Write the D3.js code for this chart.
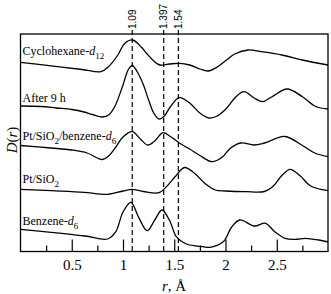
<!DOCTYPE html>
<html><head><meta charset="utf-8">
<script src="https://cdn.jsdelivr.net/npm/d3@7/dist/d3.min.js"></script>
<style>body{margin:0;background:#fff}svg{display:block}</style>
</head><body>
<svg id="chart" width="331" height="294"></svg>
<script>
// ---- data (D(r) in arbitrary units, curves stacked with offsets) ----
const r_cyclohexane = [0, 0.3, 0.6, 0.785, 0.853, 0.95, 1.016, 1.094, 1.18, 1.23, 1.3, 1.36, 1.45, 1.55, 1.65, 1.75, 1.83, 1.92, 2.01, 2.09, 2.22, 2.35, 2.55, 2.75, 3.0];
const D_cyclohexane = [189.2, 185.6, 182, 179.8, 184.2, 196.5, 208, 211.5, 204.2, 198.2, 190.5, 186.5, 187.5, 188.2, 186.5, 182.5, 180.5, 184.5, 191.5, 197.5, 201.5, 199.8, 196.5, 191.5, 186.5];

const r_after9h = [0, 0.2, 0.35, 0.5, 0.62, 0.7, 0.8, 0.86, 0.92, 1.0, 1.05, 1.09, 1.14, 1.2, 1.25, 1.3, 1.35, 1.4, 1.46, 1.55, 1.65, 1.75, 1.84, 1.92, 2.01, 2.1, 2.18, 2.28, 2.36, 2.45, 2.6, 2.75, 2.88, 3.0];
const D_after9h = [145.5, 145, 143.5, 142, 139.5, 137, 134.5, 136.5, 145, 166.5, 181.5, 186, 179.5, 166.5, 151.5, 138.5, 132.5, 135, 144.5, 153.8, 148.5, 138.5, 133.5, 135.5, 143.2, 154.5, 159.8, 153.5, 149.8, 154.5, 162.5, 154.8, 145, 142.5];

const r_ptBenzene = [0, 0.3, 0.5, 0.65, 0.75, 0.8, 0.86, 0.93, 1.0, 1.09, 1.17, 1.24, 1.31, 1.39, 1.47, 1.55, 1.65, 1.75, 1.87, 1.97, 2.05, 2.15, 2.28, 2.38, 2.58, 2.75, 2.87, 3.0];
const D_ptBenzene = [106, 103.5, 101.5, 98.5, 93.5, 92, 95.5, 104.5, 114.5, 119.8, 112.5, 106.5, 110.5, 118.8, 114.5, 108.5, 102.5, 96, 89.8, 94.5, 103.5, 108.5, 106.5, 108.5, 115, 106, 98.5, 94.8];

const r_ptSiO2 = [0, 0.3, 0.62, 0.85, 1.0, 1.09, 1.2, 1.35, 1.43, 1.51, 1.6, 1.7, 1.8, 1.9, 2.0, 2.2, 2.38, 2.46, 2.55, 2.63, 2.73, 2.83, 3.0];
const D_ptSiO2 = [62.2, 60.8, 59.2, 57.2, 60.5, 62.2, 60, 58.8, 65.5, 75, 84, 78, 68, 61.5, 60.5, 59.8, 60, 64.8, 76, 82.2, 75.5, 65.5, 60.8];

const r_benzene = [0, 0.3, 0.63, 0.85, 0.93, 1.0, 1.077, 1.15, 1.235, 1.31, 1.38, 1.46, 1.52, 1.62, 1.78, 1.85, 1.98, 2.06, 2.14, 2.28, 2.39, 2.48, 2.58, 2.68, 2.78, 2.91, 3.0];
const D_benzene = [22.2, 19.2, 15.5, 12.5, 19.8, 39.5, 49.2, 34.8, 20.8, 31.5, 41.5, 29.8, 14.8, 7.5, 4.8, 4.2, 10, 24.5, 31.5, 25.5, 28.2, 19.8, 13.2, 12.2, 13.2, 11.5, 9.5];

const refLines = [1.09, 1.397, 1.54];
const refLabels = ["1.09", "1.397", "1.54"];
const majorTicks = [0.5, 1, 1.5, 2, 2.5];
const minorTicks = [0.25, 0.75, 1.25, 1.75, 2.25, 2.75];
const tickLabels = ["0.5", "1", "1.5", "2", "2.5"];

// curve labels: [main, italic, subscript-after-main-index]
const labelParts = [
  [["Cyclohexane-", ""], ["d", "i"], ["12", "sub"]],
  [["After 9 h", ""]],
  [["Pt/SiO", ""], ["2", "sub"], ["/benzene-", ""], ["d", "i"], ["6", "sub"]],
  [["Pt/SiO", ""], ["2", "sub"]],
  [["Benzene-", ""], ["d", "i"], ["6", "sub"]]
];

const series = [
  {r: r_cyclohexane, D: D_cyclohexane},
  {r: r_after9h, D: D_after9h},
  {r: r_ptBenzene, D: D_ptBenzene},
  {r: r_ptSiO2, D: D_ptSiO2},
  {r: r_benzene, D: D_benzene}
];

// ---- drawing ----
const svg = d3.select("#chart");
const L = 20.5, R = 328, T = 34, B = 251.5;
const x = d3.scaleLinear().domain([0, 3]).range([L, R]);
const y = d3.scaleLinear().domain([0, 217.5]).range([B, T]);
const serif = "'Liberation Serif', 'Times New Roman', serif";

svg.append("rect").attr("width", 331).attr("height", 294).attr("fill", "#fff");

// reference dashed lines
refLines.forEach((v, i) => {
  svg.append("line")
    .attr("x1", x(v)).attr("x2", x(v)).attr("y1", 30).attr("y2", B)
    .attr("stroke", "#000").attr("stroke-width", 1.2).attr("stroke-dasharray", "5,3");
  svg.append("text")
    .attr("transform", `translate(${x(v) + 3.7},29) rotate(-90)`)
    .attr("text-anchor", "start")
    .attr("font-family", "'Liberation Sans', Arial, sans-serif")
    .attr("font-size", 10)
    .text(refLabels[i]);
});

// curves
const line = d3.line().x(d => x(d[0])).y(d => y(d[1])).curve(d3.curveCatmullRom.alpha(0.5));
series.forEach(s => {
  svg.append("path")
    .attr("d", line(s.r.map((rv, i) => [rv, s.D[i]])))
    .attr("fill", "none").attr("stroke", "#000").attr("stroke-width", 1.3);
});

// frame
svg.append("rect").attr("x", L).attr("y", T).attr("width", R - L).attr("height", B - T)
  .attr("fill", "none").attr("stroke", "#000").attr("stroke-width", 1.3);

// ticks (inward)
const gMaj = svg.append("g").attr("transform", `translate(0,${B})`)
  .call(d3.axisTop(x).tickValues(majorTicks).tickSize(12).tickFormat(""));
const gMin = svg.append("g").attr("transform", `translate(0,${B})`)
  .call(d3.axisTop(x).tickValues(minorTicks).tickSize(6).tickFormat(""));
[gMaj, gMin].forEach(g => {
  g.select(".domain").remove();
  g.selectAll("line").attr("stroke", "#000").attr("stroke-width", 1.2);
});
const gLab = svg.append("g").attr("transform", `translate(0,${B})`)
  .call(d3.axisBottom(x).tickValues(majorTicks).tickSize(0).tickPadding(7.5)
    .tickFormat((d, i) => tickLabels[i]));
gLab.select(".domain").remove();
gLab.selectAll("text").attr("font-family", serif).attr("font-size", 15).attr("fill", "#000");

// axis titles
const xt = svg.append("text").attr("x", 174).attr("y", 290.5).attr("text-anchor", "middle")
  .attr("font-family", serif).attr("font-size", 15);
xt.append("tspan").attr("font-style", "italic").text("r");
xt.append("tspan").text(", Å");

const yt = svg.append("text").attr("transform", "translate(17,140) rotate(-90)")
  .attr("text-anchor", "middle").attr("font-family", serif).attr("font-size", 15);
yt.append("tspan").attr("font-style", "italic").text("D");
yt.append("tspan").text("(");
yt.append("tspan").attr("font-style", "italic").text("r");
yt.append("tspan").text(")");

// curve labels
const labelBase = [54.5, 102, 140, 182.5, 225];
labelParts.forEach((parts, k) => {
  const t = svg.append("text").attr("x", 22.5).attr("y", labelBase[k])
    .attr("font-family", serif).attr("font-size", 12);
  let down = false;
  parts.forEach(([txt, kind]) => {
    const sp = t.append("tspan").text(txt);
    if (kind === "i") sp.attr("font-style", "italic");
    if (kind === "sub") { sp.attr("font-size", 9).attr("dy", 4); down = true; }
    else if (down) { sp.attr("dy", -4); down = false; }
  });
});
</script>
</body></html>
